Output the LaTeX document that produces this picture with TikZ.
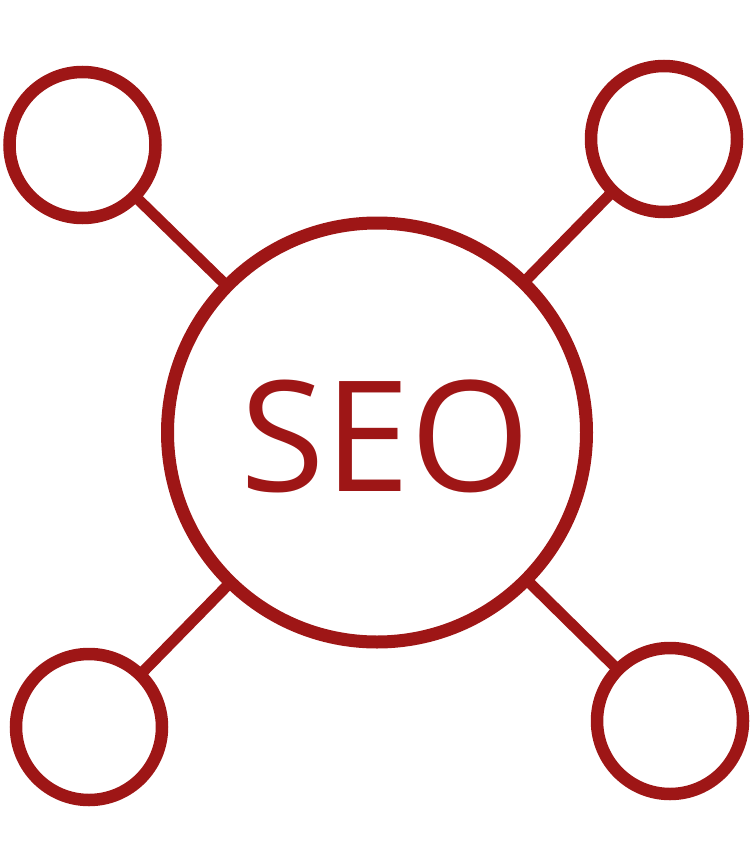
\documentclass[tikz,border=0pt]{standalone}
\usepackage{fontspec}
\setmainfont{Open Sans}
\definecolor{seored}{RGB}{158,22,22}
\begin{document}
\begin{tikzpicture}[x=1pt,y=-1pt,
  ring/.style={circle,draw=seored,line width=12.5pt,inner sep=0pt,outer sep=0pt},
  small/.style={ring,minimum size=146pt},
  big/.style={ring,line width=13pt,minimum size=419pt},
  link/.style={draw=seored,line width=11pt}]
\useasboundingbox (0,0) rectangle (755,853);
\node[big] (hub) at (377,432.5) {};
\node[anchor=base,text=seored,font=\fontsize{154}{160}\selectfont] (lbl) at (385.5,491) {SEO};
\node[small] (tl) at (82.5,145) {};
\node[small] (tr) at (664,139) {};
\node[small] (bl) at (89,727) {};
\node[small] (br) at (670,721) {};
\draw[link] (tl) -- (hub);
\draw[link] (tr) -- (hub);
\draw[link] (bl) -- (hub);
\draw[link] (br) -- (hub);
\end{tikzpicture}
\end{document}
